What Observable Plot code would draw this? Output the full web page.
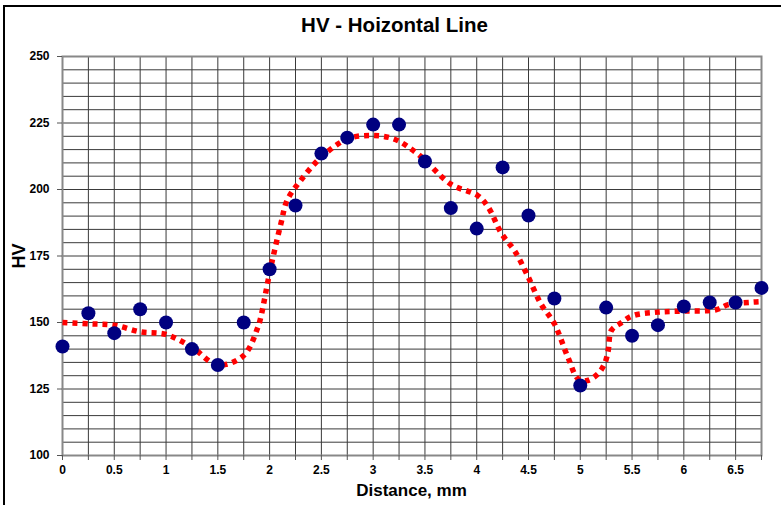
<!DOCTYPE html>
<html>
<head>
<meta charset="utf-8">
<script src="https://cdn.jsdelivr.net/npm/d3@7"></script>
<script src="https://cdn.jsdelivr.net/npm/@observablehq/plot@0.6"></script>
<style>
  html, body { margin: 0; padding: 0; background: #fff; overflow: hidden; }
  body { position: relative; width: 781px; height: 505px; font-family: "Liberation Sans", Arial, sans-serif; }
  #frame { position: absolute; left: 3px; top: 5px; width: 820px; height: 540px; border: 2px solid #000; box-sizing: border-box; }
  #title { position: absolute; left: 4px; width: 781px; top: 13px; text-align: center; font-weight: bold; font-size: 20.5px; color: #000; }
  #xlabel { position: absolute; left: 62px; width: 699px; top: 481px; text-align: center; font-weight: bold; font-size: 17px; color: #000; }
  #ylabel { position: absolute; left: 19px; top: 256px; transform: translate(-50%, -50%) rotate(-90deg); font-weight: bold; font-size: 18px; color: #000; white-space: nowrap; }
  #chart { position: absolute; left: 0; top: 0; }
</style>
</head>
<body>
<div id="frame"></div>
<div id="chart"></div>
<div id="title">HV - Hoizontal Line</div>
<div id="xlabel">Distance, mm</div>
<div id="ylabel">HV</div>
<script>
// Measured points (distance in mm, HV)
const distance = [0, 0.25, 0.5, 0.75, 1, 1.25, 1.5, 1.75, 2, 2.25, 2.5, 2.75, 3, 3.25, 3.5, 3.75, 4, 4.25, 4.5, 4.75, 5, 5.25, 5.5, 5.75, 6, 6.25, 6.5, 6.75];
const hv = [141, 153.5, 146, 155, 150, 140, 134, 150, 170, 194, 213.5, 219.5, 224.4, 224.4, 210.5, 193, 185.3, 208.3, 190.2, 159, 126.3, 155.6, 145, 149, 156, 157.5, 157.5, 163];

// Smoothed trend line
const trendX = [0, 0.27, 0.5, 0.75, 1, 1.25, 1.5, 1.75, 1.883, 1.915, 2.005, 2.108, 2.17, 2.30, 2.495, 2.75, 2.98, 3.2, 3.43, 3.75, 4.01, 4.11, 4.24, 4.365, 4.49, 4.62, 4.75, 4.88, 4.98, 5.07, 5.17, 5.235, 5.27, 5.30, 5.40, 5.51, 5.75, 6.01, 6.31, 6.43, 6.65, 6.73];
const trendY = [150, 149.5, 149, 146.5, 145.5, 140.7, 134, 137.6, 147.8, 152, 169.6, 187, 196, 203.4, 212, 219, 220.3, 219, 213.4, 202, 197.7, 193.4, 183.4, 177, 167.7, 157, 149.5, 137, 128.8, 128.2, 130.7, 134.5, 139.5, 147, 150, 152.6, 153.9, 154.3, 154.8, 156.7, 157.6, 157.8];

// Axis ticks
const xTickLabels = [0, 0.5, 1, 1.5, 2, 2.5, 3, 3.5, 4, 4.5, 5, 5.5, 6, 6.5];
const yTickLabels = [100, 125, 150, 175, 200, 225, 250];
const xGridStep = 0.25;
const yGridStep = 5;

const points = distance.map((d, i) => ({x: d, y: hv[i]}));
const trend = trendX.map((d, i) => ({x: d, y: trendY[i]}));
const xGrid = d3.range(0, 6.75 + 1e-9, xGridStep).map(v => +v.toFixed(4));
const yGrid = d3.range(100, 250 + 1e-9, yGridStep);

const chart = Plot.plot({
  width: 781,
  height: 505,
  marginLeft: 62,
  marginRight: 20,
  marginTop: 56,
  marginBottom: 50,
  style: {fontFamily: "'Liberation Sans', Arial, sans-serif", fontSize: "12px", fontWeight: "bold", color: "#000", background: "transparent"},
  x: {domain: [0, 6.75]},
  y: {domain: [100, 250]},
  marks: [
    Plot.ruleX(xGrid, {stroke: "#3a3a3a", strokeWidth: 1}),
    Plot.ruleY(yGrid, {stroke: "#3a3a3a", strokeWidth: 1}),
    Plot.frame({stroke: "#888", strokeWidth: 2}),
    Plot.axisX({ticks: xGrid, tickFormat: d => xTickLabels.includes(d) ? String(d) : "", tickSize: 5, tickPadding: 5, label: null, stroke: "#555"}),
    Plot.axisY({ticks: yTickLabels, tickFormat: d => String(d), tickSize: 5, tickPadding: 8, label: null, stroke: "#555"}),
    Plot.line(trend, {x: "x", y: "y", stroke: "#ff0000", strokeWidth: 5.5, strokeDasharray: "5,5", strokeLinecap: "butt", curve: "catmull-rom"}),
    Plot.dot(points, {x: "x", y: "y", r: 7, fill: "#000080", stroke: "none"})
  ]
});
document.getElementById("chart").appendChild(chart);
</script>
</body>
</html>
